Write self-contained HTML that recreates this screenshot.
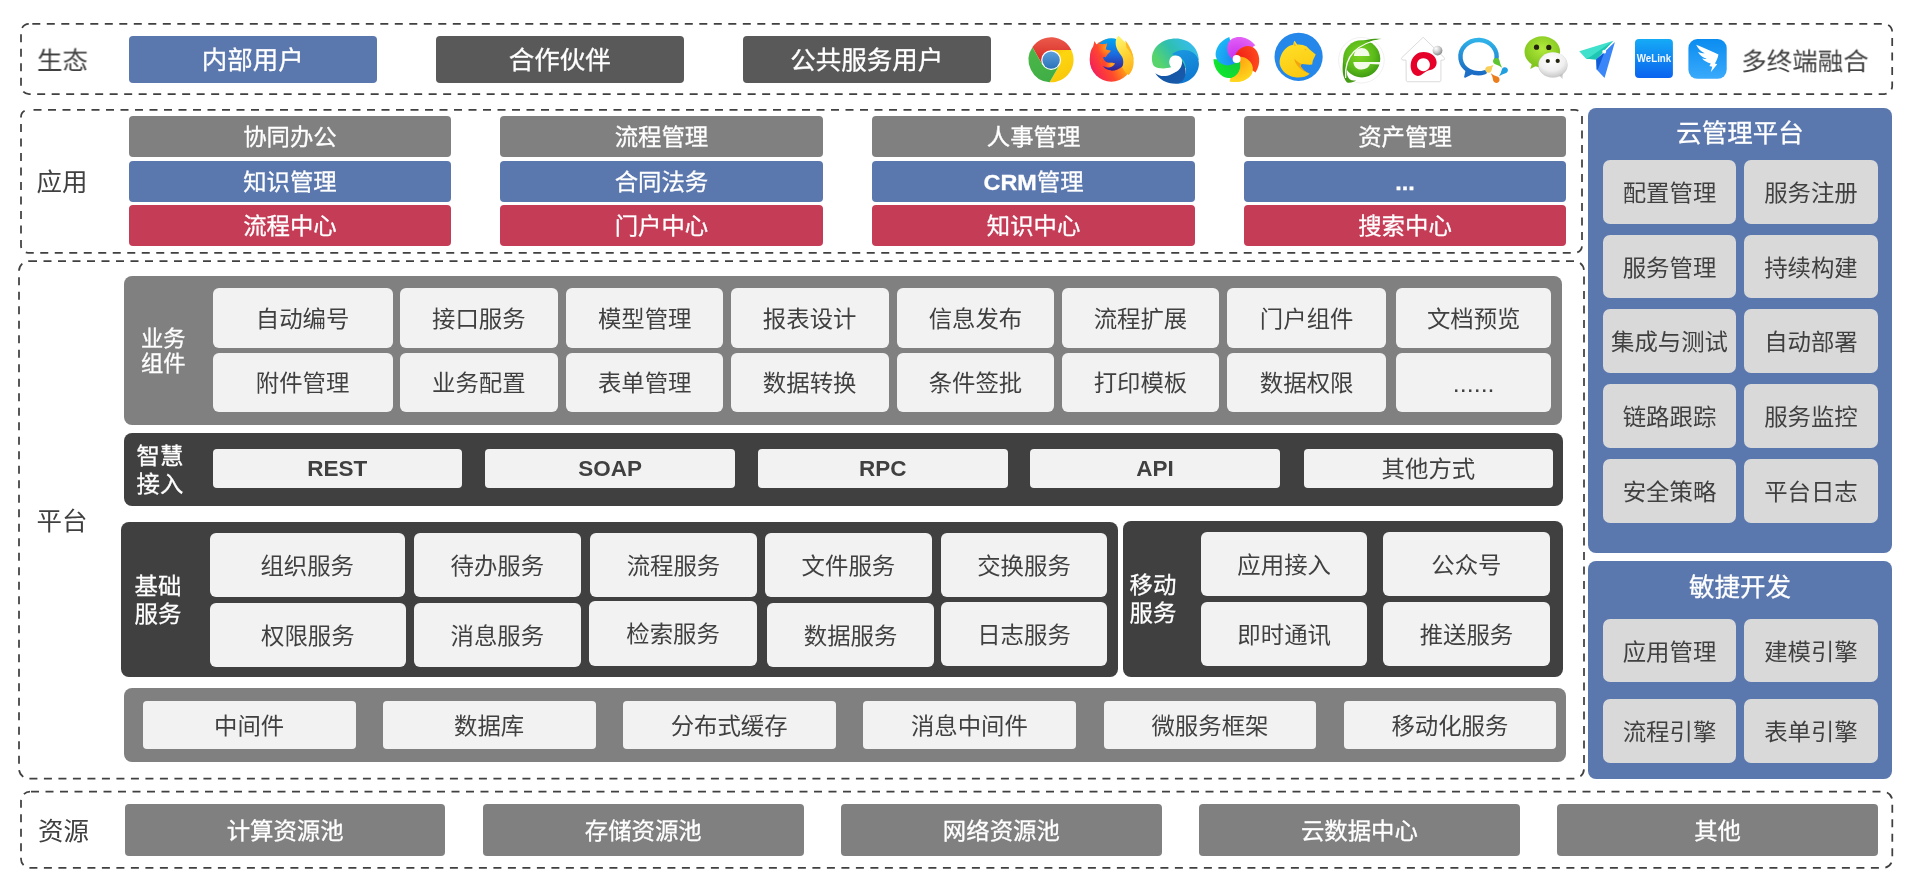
<!DOCTYPE html>
<html lang="zh-CN"><head><meta charset="utf-8"><title>平台架构</title>
<style>
html,body{margin:0;padding:0;background:#fff;}
body{width:1918px;height:878px;position:relative;overflow:hidden;font-family:"Liberation Sans", "Noto Sans CJK SC", sans-serif;}
#root{position:absolute;left:0;top:0;width:1918px;height:878px;will-change:transform;opacity:0.999;}
.b{position:absolute;display:flex;align-items:center;justify-content:center;border-radius:4px;box-sizing:border-box;white-space:nowrap;color:#fff;}
.b span{display:block;line-height:1;position:relative;top:1.4px;transform:scaleY(0.97);}
.blue span,.dk span,.gray span,.red span,.ttl,.pl{-webkit-text-stroke:0.3px #fff;}
.lc span,.cc span{top:1.8px;}
.b b{font-weight:bold;}
.l{position:absolute;transform:translate(-50%,-50%) scaleY(0.97);white-space:nowrap;text-align:center;line-height:1;margin-top:0.9px;}
.blue{background:#5a77ae;}
.dk{background:#595959;}
.gray{background:#808080;}
.red{background:#c53c56;}
.dd{background:#404040;}
.panel{border-radius:8px;}
.cc{background:#d9d9d9;color:#404040;border-radius:7px;}
.lc{background:#f2f2f2;color:#404040;border-radius:6px;}
.r4{border-radius:4px;}
.t25{font-size:25.5px;}
.t23{font-size:23.4px;}
.t22{font-size:22px;}
.dots{font-style:normal;font-size:25px;}
.t21{font-size:21px;}
.t21 span{font-size:23.4px;}
.t21 b{font-size:22.5px;position:relative;top:-0.6px;}
.lab{font-size:25.5px;color:#404040;}
.lab2{font-size:25.5px;color:#404040;}
.ttl{font-size:25.5px;color:#fff;}
.pl{font-size:23.4px;color:#fff;text-align:left;}
svg.ov{position:absolute;left:0;top:0;}
</style></head><body><div id="root">
<svg class="ov" width="1918" height="878" viewBox="0 0 1918 878" fill="none" stroke="#404040" stroke-width="1.75" stroke-dasharray="8 6.5">
<rect x="21" y="23.9" width="1871.2" height="70.1" rx="8" stroke-dashoffset="-3.3"/>
<rect x="21" y="109.9" width="1561" height="142.9" rx="7" stroke-dashoffset="-5.5"/>
<rect x="19" y="261" width="1565" height="517.7" rx="10"/>
<rect x="21" y="791.7" width="1871.3" height="76.2" rx="9" stroke-dashoffset="-1"/>
</svg>
<div class="b blue t25" style="left:128.8px;top:36.0px;width:247.8px;height:46.8px;"><span>内部用户</span></div>
<div class="b dk t25" style="left:435.9px;top:36.0px;width:247.8px;height:46.8px;"><span>合作伙伴</span></div>
<div class="b dk t25" style="left:743.0px;top:36.0px;width:247.7px;height:46.8px;"><span>公共服务用户</span></div>
<div class="l lab" style="left:62.5px;top:60.0px;">生态</div>
<div class="l lab2" style="left:1805.0px;top:61.5px;">多终端融合</div>
<div class="b gray t23" style="left:129.0px;top:116.0px;width:321.9px;height:40.8px;"><span>协同办公</span></div>
<div class="b gray t23" style="left:500.0px;top:116.0px;width:322.9px;height:40.8px;"><span>流程管理</span></div>
<div class="b gray t23" style="left:872.3px;top:116.0px;width:322.6px;height:40.8px;"><span>人事管理</span></div>
<div class="b gray t23" style="left:1244.0px;top:116.0px;width:322.0px;height:40.8px;"><span>资产管理</span></div>
<div class="b blue t23" style="left:129.0px;top:161.0px;width:321.9px;height:40.9px;"><span>知识管理</span></div>
<div class="b blue t23" style="left:500.0px;top:161.0px;width:322.9px;height:40.9px;"><span>合同法务</span></div>
<div class="b blue t23" style="left:872.3px;top:161.0px;width:322.6px;height:40.9px;"><span><b>CRM</b>管理</span></div>
<div class="b blue t23" style="left:1244.0px;top:161.0px;width:322.0px;height:40.9px;"><span><b style="font-size:23.4px">...</b></span></div>
<div class="b red t23" style="left:129.0px;top:205.0px;width:321.9px;height:40.8px;"><span>流程中心</span></div>
<div class="b red t23" style="left:500.0px;top:205.0px;width:322.9px;height:40.8px;"><span>门户中心</span></div>
<div class="b red t23" style="left:872.3px;top:205.0px;width:322.6px;height:40.8px;"><span>知识中心</span></div>
<div class="b red t23" style="left:1244.0px;top:205.0px;width:322.0px;height:40.8px;"><span>搜索中心</span></div>
<div class="l lab" style="left:62.0px;top:181.7px;">应用</div>
<div class="b blue panel" style="left:1588.0px;top:108.0px;width:304.0px;height:444.7px;"><span></span></div>
<div class="l ttl" style="left:1740.0px;top:133.0px;">云管理平台</div>
<div class="b cc t23" style="left:1603.0px;top:159.8px;width:133.0px;height:63.9px;"><span>配置管理</span></div>
<div class="b cc t23" style="left:1743.7px;top:159.8px;width:134.5px;height:63.9px;"><span>服务注册</span></div>
<div class="b cc t23" style="left:1603.0px;top:234.6px;width:133.0px;height:63.9px;"><span>服务管理</span></div>
<div class="b cc t23" style="left:1743.7px;top:234.6px;width:134.5px;height:63.9px;"><span>持续构建</span></div>
<div class="b cc t23" style="left:1603.0px;top:309.4px;width:133.0px;height:63.9px;"><span>集成与测试</span></div>
<div class="b cc t23" style="left:1743.7px;top:309.4px;width:134.5px;height:63.9px;"><span>自动部署</span></div>
<div class="b cc t23" style="left:1603.0px;top:384.2px;width:133.0px;height:63.9px;"><span>链路跟踪</span></div>
<div class="b cc t23" style="left:1743.7px;top:384.2px;width:134.5px;height:63.9px;"><span>服务监控</span></div>
<div class="b cc t23" style="left:1603.0px;top:459.0px;width:133.0px;height:63.9px;"><span>安全策略</span></div>
<div class="b cc t23" style="left:1743.7px;top:459.0px;width:134.5px;height:63.9px;"><span>平台日志</span></div>
<div class="b blue panel" style="left:1588.0px;top:561.3px;width:304.0px;height:217.3px;"><span></span></div>
<div class="l ttl" style="left:1740.0px;top:586.7px;">敏捷开发</div>
<div class="b cc t23" style="left:1603.0px;top:619.0px;width:133.0px;height:62.9px;"><span>应用管理</span></div>
<div class="b cc t23" style="left:1743.7px;top:619.0px;width:134.5px;height:62.9px;"><span>建模引擎</span></div>
<div class="b cc t23" style="left:1603.0px;top:698.8px;width:133.0px;height:64.1px;"><span>流程引擎</span></div>
<div class="b cc t23" style="left:1743.7px;top:698.8px;width:134.5px;height:64.1px;"><span>表单引擎</span></div>
<div class="l lab" style="left:62.0px;top:520.7px;">平台</div>
<div class="b gray panel" style="left:123.8px;top:276.0px;width:1438.7px;height:148.5px;"><span></span></div>
<div class="l pl" style="left:163.3px;top:350.8px;line-height:26px;font-size:22.3px;margin-top:1.2px;">业务<br>组件</div>
<div class="b lc t23" style="left:212.5px;top:288.0px;width:180.2px;height:59.5px;"><span>自动编号</span></div>
<div class="b lc t23" style="left:399.7px;top:288.0px;width:158.2px;height:59.5px;"><span>接口服务</span></div>
<div class="b lc t23" style="left:565.9px;top:288.0px;width:157.6px;height:59.5px;"><span>模型管理</span></div>
<div class="b lc t23" style="left:730.6px;top:288.0px;width:158.1px;height:59.5px;"><span>报表设计</span></div>
<div class="b lc t23" style="left:896.7px;top:288.0px;width:157.6px;height:59.5px;"><span>信息发布</span></div>
<div class="b lc t23" style="left:1061.7px;top:288.0px;width:157.6px;height:59.5px;"><span>流程扩展</span></div>
<div class="b lc t23" style="left:1227.3px;top:288.0px;width:158.7px;height:59.5px;"><span>门户组件</span></div>
<div class="b lc t23" style="left:1395.9px;top:288.0px;width:155.6px;height:59.5px;"><span>文档预览</span></div>
<div class="b lc t23" style="left:212.5px;top:352.8px;width:180.2px;height:59.2px;"><span>附件管理</span></div>
<div class="b lc t23" style="left:399.7px;top:352.8px;width:158.2px;height:59.2px;"><span>业务配置</span></div>
<div class="b lc t23" style="left:565.9px;top:352.8px;width:157.6px;height:59.2px;"><span>表单管理</span></div>
<div class="b lc t23" style="left:730.6px;top:352.8px;width:158.1px;height:59.2px;"><span>数据转换</span></div>
<div class="b lc t23" style="left:896.7px;top:352.8px;width:157.6px;height:59.2px;"><span>条件签批</span></div>
<div class="b lc t23" style="left:1061.7px;top:352.8px;width:157.6px;height:59.2px;"><span>打印模板</span></div>
<div class="b lc t23" style="left:1227.3px;top:352.8px;width:158.7px;height:59.2px;"><span>数据权限</span></div>
<div class="b lc t23" style="left:1395.9px;top:352.8px;width:155.6px;height:59.2px;"><span><i class="dots">......</i></span></div>
<div class="b dd panel" style="left:124.0px;top:433.1px;width:1438.5px;height:72.5px;"><span></span></div>
<div class="l pl" style="left:160.0px;top:469.5px;line-height:29px;margin-top:1.4px;">智慧<br>接入</div>
<div class="b lc t21 r4" style="left:212.7px;top:448.8px;width:249.0px;height:39.0px;"><span><b>REST</b></span></div>
<div class="b lc t21 r4" style="left:485.3px;top:448.8px;width:249.7px;height:39.0px;"><span><b>SOAP</b></span></div>
<div class="b lc t21 r4" style="left:757.7px;top:448.8px;width:250.0px;height:39.0px;"><span><b>RPC</b></span></div>
<div class="b lc t21 r4" style="left:1030.3px;top:448.8px;width:249.4px;height:39.0px;"><span><b>API</b></span></div>
<div class="b lc t21 r4" style="left:1304.0px;top:448.8px;width:248.8px;height:39.0px;"><span>其他方式</span></div>
<div class="b dd panel" style="left:121.0px;top:522.0px;width:996.6px;height:155.4px;"><span></span></div>
<div class="l pl" style="left:158.0px;top:599.7px;line-height:29px;margin-top:1.4px;">基础<br>服务</div>
<div class="b lc t23" style="left:209.7px;top:532.9px;width:195.0px;height:63.9px;"><span>组织服务</span></div>
<div class="b lc t23" style="left:209.7px;top:602.6px;width:196.3px;height:64.3px;"><span>权限服务</span></div>
<div class="b lc t23" style="left:413.7px;top:532.9px;width:167.2px;height:63.9px;"><span>待办服务</span></div>
<div class="b lc t23" style="left:413.7px;top:602.5px;width:167.2px;height:64.4px;"><span>消息服务</span></div>
<div class="b lc t23" style="left:590.3px;top:532.9px;width:166.4px;height:63.9px;"><span>流程服务</span></div>
<div class="b lc t23" style="left:589.4px;top:600.6px;width:167.3px;height:65.3px;"><span>检索服务</span></div>
<div class="b lc t23" style="left:765.0px;top:532.9px;width:166.8px;height:63.9px;"><span>文件服务</span></div>
<div class="b lc t23" style="left:767.0px;top:603.2px;width:167.1px;height:63.7px;"><span>数据服务</span></div>
<div class="b lc t23" style="left:941.0px;top:532.9px;width:166.0px;height:63.9px;"><span>交换服务</span></div>
<div class="b lc t23" style="left:941.0px;top:602.3px;width:166.0px;height:63.6px;"><span>日志服务</span></div>
<div class="b dd panel" style="left:1123.0px;top:521.0px;width:439.5px;height:155.6px;"><span></span></div>
<div class="l pl" style="left:1153.0px;top:598.7px;line-height:29px;margin-top:1.4px;">移动<br>服务</div>
<div class="b lc t23" style="left:1201.0px;top:531.9px;width:166.3px;height:63.9px;"><span>应用接入</span></div>
<div class="b lc t23" style="left:1382.9px;top:531.9px;width:167.1px;height:63.9px;"><span>公众号</span></div>
<div class="b lc t23" style="left:1201.0px;top:602.0px;width:166.3px;height:63.9px;"><span>即时通讯</span></div>
<div class="b lc t23" style="left:1382.9px;top:602.0px;width:167.1px;height:63.9px;"><span>推送服务</span></div>
<div class="b gray panel" style="left:123.8px;top:687.7px;width:1442.2px;height:74.2px;"><span></span></div>
<div class="b lc t23 r4" style="left:142.5px;top:701.0px;width:213.2px;height:47.8px;"><span>中间件</span></div>
<div class="b lc t23 r4" style="left:382.5px;top:701.0px;width:213.3px;height:47.8px;"><span>数据库</span></div>
<div class="b lc t23 r4" style="left:622.6px;top:701.0px;width:213.2px;height:47.8px;"><span>分布式缓存</span></div>
<div class="b lc t23 r4" style="left:862.9px;top:701.0px;width:213.1px;height:47.8px;"><span>消息中间件</span></div>
<div class="b lc t23 r4" style="left:1103.8px;top:701.0px;width:212.3px;height:47.8px;"><span>微服务框架</span></div>
<div class="b lc t23 r4" style="left:1343.9px;top:701.0px;width:212.1px;height:47.8px;"><span>移动化服务</span></div>
<div class="l lab" style="left:63.5px;top:831.0px;">资源</div>
<div class="b gray t23" style="left:124.8px;top:804.0px;width:320.7px;height:51.7px;"><span>计算资源池</span></div>
<div class="b gray t23" style="left:482.9px;top:804.0px;width:320.8px;height:51.7px;"><span>存储资源池</span></div>
<div class="b gray t23" style="left:841.0px;top:804.0px;width:320.7px;height:51.7px;"><span>网络资源池</span></div>
<div class="b gray t23" style="left:1199.1px;top:804.0px;width:320.7px;height:51.7px;"><span>云数据中心</span></div>
<div class="b gray t23" style="left:1557.2px;top:804.0px;width:320.7px;height:51.7px;"><span>其他</span></div>
<svg class="ov" width="1918" height="878" viewBox="0 0 1918 878"><defs>
<linearGradient id="cr" x1="0" y1="0" x2="0" y2="1"><stop offset="0" stop-color="#ec5a4c"/><stop offset="1" stop-color="#d3231f"/></linearGradient>
<linearGradient id="cyl" x1="0" y1="0" x2="0.5" y2="1"><stop offset="0" stop-color="#f3bd0a"/><stop offset="0.35" stop-color="#fdd60f"/><stop offset="1" stop-color="#f9c70c"/></linearGradient>
<linearGradient id="cg" x1="0.2" y1="0" x2="0.6" y2="1"><stop offset="0" stop-color="#4cb748"/><stop offset="1" stop-color="#3fae46"/></linearGradient>
<linearGradient id="cb" x1="0" y1="0" x2="0" y2="1"><stop offset="0" stop-color="#5d9fdc"/><stop offset="1" stop-color="#2b72b8"/></linearGradient>
<linearGradient id="ff1" gradientUnits="userSpaceOnUse" x1="1133" y1="50" x2="1089" y2="73"><stop offset="0" stop-color="#ffd83a"/><stop offset="0.3" stop-color="#ffa616"/><stop offset="0.6" stop-color="#ff4a2c"/><stop offset="0.85" stop-color="#f72a4e"/><stop offset="1" stop-color="#e3127e"/></linearGradient>
<linearGradient id="ff2" x1="0.5" y1="0" x2="0.5" y2="1"><stop offset="0" stop-color="#00a6f2"/><stop offset="0.5" stop-color="#1a6be0"/><stop offset="1" stop-color="#3a1c8c"/></linearGradient>
<linearGradient id="ff3" x1="0.9" y1="0" x2="0.2" y2="1"><stop offset="0" stop-color="#ffa616"/><stop offset="1" stop-color="#ff3e36"/></linearGradient>
<linearGradient id="ff4" x1="0.3" y1="0" x2="0.6" y2="1"><stop offset="0" stop-color="#fff36e"/><stop offset="0.45" stop-color="#ffd83a"/><stop offset="1" stop-color="#ffb01a"/></linearGradient>
<radialGradient id="ffh" gradientUnits="userSpaceOnUse" cx="1106.5" cy="48.1" r="9"><stop offset="0" stop-color="#ffa01a" stop-opacity="0.95"/><stop offset="1" stop-color="#ff7a1a" stop-opacity="0"/></radialGradient>
<radialGradient id="ffh2" gradientUnits="userSpaceOnUse" cx="1111.9" cy="64.5" r="6.5"><stop offset="0" stop-color="#ffb41e" stop-opacity="1"/><stop offset="1" stop-color="#ff8a1a" stop-opacity="0"/></radialGradient>
<linearGradient id="ed1" x1="0.1" y1="0.7" x2="0.95" y2="0.3"><stop offset="0" stop-color="#58d46c"/><stop offset="0.45" stop-color="#2fbfae"/><stop offset="1" stop-color="#36bdf0"/></linearGradient>
<linearGradient id="ed2" x1="0.3" y1="0" x2="0.6" y2="1"><stop offset="0" stop-color="#1a97e0"/><stop offset="1" stop-color="#0e76cf"/></linearGradient>
<linearGradient id="ed3" x1="0" y1="0" x2="1" y2="1"><stop offset="0" stop-color="#0f4f9e"/><stop offset="1" stop-color="#1a5cad"/></linearGradient>
<radialGradient id="pw_y" gradientUnits="userSpaceOnUse" cx="1236.6" cy="59.0" r="23"><stop offset="0.15" stop-color="#ffa410"/><stop offset="1" stop-color="#ffd81e"/></radialGradient>
<radialGradient id="pw_g" gradientUnits="userSpaceOnUse" cx="1236.6" cy="59.0" r="23"><stop offset="0.15" stop-color="#12cc3c"/><stop offset="1" stop-color="#10e62e"/></radialGradient>
<radialGradient id="pw_b" gradientUnits="userSpaceOnUse" cx="1236.6" cy="59.0" r="23"><stop offset="0.15" stop-color="#1c8af0"/><stop offset="1" stop-color="#1ab8f6"/></radialGradient>
<radialGradient id="pw_m" gradientUnits="userSpaceOnUse" cx="1236.6" cy="59.0" r="23"><stop offset="0.15" stop-color="#c934ee"/><stop offset="1" stop-color="#e462f6"/></radialGradient>
<radialGradient id="pw_r" gradientUnits="userSpaceOnUse" cx="1236.6" cy="59.0" r="23"><stop offset="0.15" stop-color="#f02218"/><stop offset="1" stop-color="#ff4a1c"/></radialGradient>
<clipPath id="pwclip"><path d="M1236.59 59.05 L1239.95 61.06 C1240.92 64.73 1240.84 68.90 1238.20 72.89 C1235.50 76.84 1231.83 78.40 1227.86 78.05 L1219.50 95.96 L1277.60 95.96 L1277.60 31.71 L1233.17 31.71 Z"/></clipPath>
<linearGradient id="lb" x1="0.2" y1="0" x2="0.6" y2="1"><stop offset="0" stop-color="#ffe02a"/><stop offset="1" stop-color="#fbc80e"/></linearGradient>
<radialGradient id="ge" cx="0.45" cy="0.4" r="0.65"><stop offset="0" stop-color="#7fd422"/><stop offset="0.6" stop-color="#5cbb1a"/><stop offset="1" stop-color="#3a9612"/></radialGradient>
<radialGradient id="ball" cx="0.35" cy="0.3" r="0.8"><stop offset="0" stop-color="#ffffff"/><stop offset="0.5" stop-color="#c8c8c8"/><stop offset="1" stop-color="#7a7a7a"/></radialGradient>
<linearGradient id="wc" x1="0.5" y1="0" x2="0.4" y2="1"><stop offset="0" stop-color="#2fb2e8"/><stop offset="1" stop-color="#1b6cc4"/></linearGradient>
<radialGradient id="wxg" cx="0.5" cy="0.4" r="0.6"><stop offset="0" stop-color="#b2ea3c"/><stop offset="1" stop-color="#7dc21c"/></radialGradient>
<radialGradient id="wxw" cx="0.45" cy="0.3" r="0.75"><stop offset="0" stop-color="#ffffff"/><stop offset="0.6" stop-color="#f0f0f0"/><stop offset="1" stop-color="#c4c4c4"/></radialGradient>
<linearGradient id="wl" x1="0" y1="0" x2="0" y2="1"><stop offset="0" stop-color="#15abf6"/><stop offset="1" stop-color="#0b63ef"/></linearGradient>
<linearGradient id="dt" x1="0" y1="0" x2="0" y2="1"><stop offset="0" stop-color="#0a8cf0"/><stop offset="1" stop-color="#3aaafb"/></linearGradient>
</defs>
<g id="i-chrome">
<path d="M1042.53 64.75 L1032.42 47.25 A22.5 22.5 0 0 1 1071.30 49.90 L1051.10 49.90 Z" fill="url(#cr)"/>
<path d="M1051.10 49.90 L1071.30 49.90 A22.5 22.5 0 0 1 1049.57 82.25 L1059.67 64.75 Z" fill="url(#cyl)"/>
<path d="M1059.67 64.75 L1049.57 82.25 A22.5 22.5 0 0 1 1032.42 47.25 L1042.53 64.75 Z" fill="url(#cg)"/>
<circle cx="1051.1" cy="60.099999999999994" r="9.9" fill="#fff"/>
<circle cx="1051.1" cy="60.099999999999994" r="8.7" fill="url(#cb)"/>
</g>
<g id="i-firefox">
<circle cx="1111.3" cy="60.1" r="21.6" fill="url(#ff1)"/>
<circle cx="1111.3" cy="54.5" r="16.2" fill="url(#ff2)"/>
<path d="M1094.50 40.94 L1096.56 44.70 C1099.97 43.33 1104.07 45.04 1107.22 43.33 L1105.51 49.48 L1110.84 50.85 C1108.86 53.58 1107.15 54.27 1105.85 57.34 C1104.76 56.79 1103.73 56.79 1103.12 57.34 C1103.53 60.08 1105.44 62.13 1108.17 62.81 C1110.91 62.95 1112.96 61.99 1115.08 63.49 C1113.30 66.23 1110.91 67.46 1108.17 67.59 C1105.44 67.46 1103.73 66.57 1102.71 65.54 C1104.07 68.28 1107.49 70.33 1111.59 70.60 L1102.02 73.75 L1091.09 65.54 C1089.04 58.71 1089.72 50.51 1093.14 46.40 Z" fill="url(#ff1)"/>
<path d="M1103.12 57.34 C1101.34 57.68 1099.97 59.05 1099.70 60.08 C1100.31 64.18 1103.39 66.91 1108.17 67.59 C1105.44 67.46 1103.73 66.57 1102.71 65.54 C1101.68 62.81 1102.02 59.39 1103.12 57.34 Z" fill="#f0600e" opacity="0.55"/>
<path d="M1094.50 40.94 L1096.56 44.70 C1099.97 43.33 1104.07 45.04 1107.22 43.33 L1105.51 49.48 L1110.84 50.85 C1108.86 53.58 1107.15 54.27 1105.85 57.34 C1104.76 56.79 1103.73 56.79 1103.12 57.34 C1103.53 60.08 1105.44 62.13 1108.17 62.81 C1110.91 62.95 1112.96 61.99 1115.08 63.49 C1113.30 66.23 1110.91 67.46 1108.17 67.59 C1105.44 67.46 1103.73 66.57 1102.71 65.54 C1104.07 68.28 1107.49 70.33 1111.59 70.60 L1102.02 73.75 L1091.09 65.54 C1089.04 58.71 1089.72 50.51 1093.14 46.40 Z" fill="url(#ffh)"/>
<path d="M1094.50 40.94 L1096.56 44.70 C1099.97 43.33 1104.07 45.04 1107.22 43.33 L1105.51 49.48 L1110.84 50.85 C1108.86 53.58 1107.15 54.27 1105.85 57.34 C1104.76 56.79 1103.73 56.79 1103.12 57.34 C1103.53 60.08 1105.44 62.13 1108.17 62.81 C1110.91 62.95 1112.96 61.99 1115.08 63.49 C1113.30 66.23 1110.91 67.46 1108.17 67.59 C1105.44 67.46 1103.73 66.57 1102.71 65.54 C1104.07 68.28 1107.49 70.33 1111.59 70.60 L1102.02 73.75 L1091.09 65.54 C1089.04 58.71 1089.72 50.51 1093.14 46.40 Z" fill="url(#ffh2)"/>
<path d="M1118.43 35.81 C1123.90 40.94 1130.05 46.40 1132.44 53.92 C1134.97 61.44 1133.60 69.99 1128.68 75.11 C1126.29 73.75 1123.90 71.01 1122.19 67.25 C1124.03 62.81 1123.35 58.71 1121.57 55.97 C1119.45 52.56 1116.04 49.14 1115.69 43.67 C1115.42 40.25 1116.38 37.52 1118.43 35.81 Z" fill="url(#ff4)"/>
<path d="M1125.26 40.25 C1129.36 45.72 1133.47 52.56 1133.47 60.08 C1132.10 54.61 1129.36 50.51 1126.63 47.77 Z" fill="#ffb51e"/>
</g>
<g id="i-edge">
<path d="M1151.97 59.39 C1151.49 47.09 1162.77 38.54 1175.76 38.54 C1188.75 38.54 1198.32 47.77 1198.86 60.08 L1186.01 68.28 L1170.97 67.25 C1165.51 68.96 1157.99 68.96 1153.89 65.89 C1152.52 63.83 1152.04 61.78 1151.97 59.39 Z" fill="url(#ed1)"/>
<path d="M1172.00 54.06 C1177.13 49.48 1186.70 48.32 1192.85 52.42 C1196.61 54.95 1199.14 59.39 1198.93 64.52 C1198.32 74.43 1189.43 83.66 1177.13 83.66 C1181.91 80.58 1185.33 76.48 1186.01 70.33 C1186.42 64.18 1183.28 58.71 1179.18 56.66 C1177.13 55.63 1174.39 55.63 1172.00 54.06 Z" fill="url(#ed2)"/>
<path d="M1155.25 72.93 C1158.67 76.48 1165.51 77.16 1170.97 74.43 C1176.44 71.70 1180.54 66.91 1181.36 60.08 C1185.33 65.54 1186.83 71.01 1184.78 77.16 C1183.41 80.72 1180.54 82.97 1177.13 83.66 C1167.56 84.14 1158.67 79.35 1155.25 72.93 Z" fill="url(#ed3)"/>
<path d="M1171.32 67.46 C1169.47 65.54 1168.79 62.81 1169.47 60.08 C1170.84 55.02 1177.47 54.27 1180.89 57.68 C1183.00 60.62 1182.46 65.68 1179.31 69.23 C1175.08 73.88 1165.51 76.62 1155.25 72.93 C1162.09 73.75 1168.24 71.01 1171.32 67.46 Z" fill="#fff"/>
</g>
<g id="i-360x">
<path d="M1239.54 56.48 C1243.33 56.69 1247.27 58.05 1250.25 61.80 C1253.17 65.59 1253.52 69.56 1251.96 73.23 C1249.35 78.93 1240.45 84.13 1229.61 81.19 L1231.56 75.38 L1236.59 59.05 Z" fill="url(#pw_y)"/>
<path d="M1239.95 61.06 C1240.92 64.73 1240.84 68.90 1238.20 72.89 C1235.50 76.84 1231.83 78.40 1227.86 78.05 C1221.63 77.32 1213.93 70.47 1213.38 59.25 L1219.51 59.31 L1236.59 59.05 Z" fill="url(#pw_g)"/>
<path d="M1235.71 62.86 C1232.53 64.92 1228.54 66.14 1223.93 64.85 C1219.33 63.50 1216.72 60.50 1215.82 56.61 C1214.59 50.46 1218.73 41.03 1229.23 37.04 L1231.07 42.88 L1236.59 59.05 Z" fill="url(#pw_b)"/>
<path d="M1232.70 59.39 C1229.76 57.00 1227.37 53.58 1227.16 48.80 C1227.02 44.01 1229.07 40.59 1232.49 38.54 C1237.96 35.47 1248.21 36.49 1255.25 45.24 L1250.26 48.80 L1236.59 59.05 Z" fill="url(#pw_m)"/>
<path d="M1235.06 55.45 C1236.43 51.92 1238.94 48.58 1243.43 46.91 C1247.94 45.30 1251.82 46.20 1254.83 48.81 C1259.44 53.06 1261.64 63.13 1255.49 72.53 L1250.57 68.88 L1236.59 59.05 Z" fill="url(#pw_r)"/>
<path d="M1239.54 56.48 C1243.33 56.69 1247.27 58.05 1250.25 61.80 C1253.17 65.59 1253.52 69.56 1251.96 73.23 C1249.35 78.93 1240.45 84.13 1229.61 81.19 L1231.56 75.38 L1236.59 59.05 Z" fill="url(#pw_y)" clip-path="url(#pwclip)"/>
<circle cx="1236.6" cy="59.0" r="4" fill="#fff"/>
</g>
<g id="i-liebao">
<circle cx="1298.6" cy="56.8" r="24.1" fill="#2587ea"/>
<path d="M1294.73 40.72 L1297.13 44.48 C1300.54 44.14 1303.96 44.82 1306.70 46.53 L1309.09 48.92 L1315.72 54.53 L1312.85 60.54 L1312.16 64.51 L1309.43 64.78 L1302.25 64.10 C1300.54 64.30 1300.20 65.33 1300.89 66.70 C1302.94 70.11 1306.01 72.16 1309.77 73.67 C1306.01 76.95 1300.54 77.97 1295.08 77.29 C1287.56 75.92 1281.40 71.48 1279.70 63.96 C1279.01 57.13 1282.77 50.29 1288.24 46.53 C1290.29 45.37 1292.00 44.82 1293.37 44.69 C1293.37 42.91 1293.84 41.68 1294.73 40.72 Z" fill="url(#lb)"/>
<path d="M1294.39 58.83 C1297.13 61.91 1299.86 63.62 1302.25 64.10 C1300.54 64.51 1300.27 65.46 1300.95 66.83 C1302.94 70.11 1306.01 72.30 1309.77 73.67 C1305.33 72.85 1300.54 69.43 1297.13 65.33 C1295.42 62.94 1294.53 60.89 1294.39 58.83 Z" fill="#f2a60c"/>
<path d="M1294.05 42.09 L1295.76 45.51 L1294.53 46.19 Z" fill="#f2a60c"/>
<path d="M1303.96 48.79 L1306.35 49.74 L1305.87 50.43 Z" fill="#e8a010"/>
</g>
<g id="i-360e">
<circle cx="1361.4" cy="60.2" r="22.8" fill="none" stroke="#ececec" stroke-width="0.8"/>
<path d="M1381.95 39.01 C1374.36 38.33 1365.55 38.67 1352.56 44.82 C1345.66 48.92 1342.92 59.18 1342.65 66.01 C1342.24 72.85 1343.61 79.00 1347.02 82.42 C1350.44 83.10 1353.86 82.07 1356.25 80.23 C1351.81 81.46 1348.53 79.55 1347.30 75.58 C1345.11 66.01 1349.21 55.76 1357.34 48.24 C1364.11 42.77 1374.36 40.17 1381.95 39.01 Z" fill="#469c16"/>
<circle cx="1361.7" cy="58.8" r="18.6" fill="url(#ge)"/>
<path d="M1381.47 39.49 C1371.63 40.72 1360.69 44.82 1353.86 51.79 C1347.37 58.49 1344.84 67.38 1345.66 77.97" fill="none" stroke="#fff" stroke-width="1.2"/>
<path d="M1353.86 55.90 C1354.20 50.97 1357.28 47.90 1361.72 47.90 C1366.16 47.90 1369.24 50.97 1369.58 55.90 Z" fill="#f4fbe8"/>
<path d="M1353.31 61.91 L1380.38 61.91 L1379.83 64.51 L1369.92 64.10 C1368.90 67.38 1365.82 69.57 1361.72 69.57 C1356.93 69.57 1353.72 66.70 1353.31 61.91 Z" fill="#f4fbe8"/>
</g>
<g id="i-house">
<path d="M1423.15 37.30 L1401.76 57.67 C1400.94 58.63 1401.48 59.86 1402.99 60.00 L1406.06 60.20 L1406.20 80.02 C1406.27 81.19 1406.81 81.73 1407.91 81.73 L1439.21 81.73 C1440.31 81.73 1440.85 81.19 1440.92 80.02 L1440.92 60.20 L1443.32 60.00 C1444.82 59.72 1445.09 58.49 1444.14 57.54 Z" fill="#fff" stroke="#d6d6d6" stroke-width="0.9" stroke-linejoin="round"/>
<path fill-rule="evenodd" d="M1423.49 52.00 C1431.01 52.00 1436.48 56.44 1436.62 62.25 C1436.75 66.01 1434.43 69.09 1431.01 69.77 C1426.91 70.45 1424.18 72.85 1420.76 75.24 C1417.34 76.95 1413.24 75.58 1411.53 70.80 C1409.48 64.64 1411.19 57.81 1415.97 54.39 C1418.37 52.68 1420.76 52.00 1423.49 52.00 ZM1423.36 58.15 A6.49 6.49 0 1 0 1423.42 58.15 Z" fill="#e60028"/>
<circle cx="1437.5" cy="50.6" r="4.9" fill="url(#ball)"/>
</g>
<g id="i-wecom">
<path d="M1496.02 60.95 A18.11 16.61 0 1 0 1484.74 72.23" fill="none" stroke="url(#wc)" stroke-width="4.4" stroke-linecap="round"/>
<path d="M1465.87 68.75 L1464.09 77.08 Q1464.50 78.04 1465.73 77.49 L1473.39 73.67 Z" fill="#1c6ec6"/>
<path d="M1494.74 64.12 A3.28 3.28 0 1 1 1499.33 60.01 Q1500.30 64.89 1502.10 67.72 Q1499.48 65.62 1494.74 64.12 Z" fill="#5fc52e"/>
<path d="M1502.02 69.00 A3.08 3.08 0 1 1 1506.18 73.01 Q1501.63 74.36 1499.02 76.26 Q1500.83 73.60 1502.02 69.00 Z" fill="#1f9fe0"/>
<path d="M1497.92 76.84 A3.28 3.28 0 1 1 1493.21 80.81 Q1492.48 76.01 1490.82 73.19 Q1493.32 75.30 1497.92 76.84 Z" fill="#ec7d1c"/>
<path d="M1491.35 70.92 A3.28 3.28 0 1 1 1487.14 66.41 Q1491.23 66.06 1493.55 64.64 Q1491.98 66.86 1491.35 70.92 Z" fill="#f7cf5a"/>
</g>
<g id="i-wechat">
<ellipse cx="1542.3" cy="51.8" rx="17.8" ry="15.6" fill="url(#wxg)"/>
<path d="M1532.09 63.28 L1530.17 68.88 L1537.56 65.33 Z" fill="#84c620"/>
<path d="M1558.75 75.24 L1562.51 79.00 L1562.85 72.85 Z" fill="#d0d0d0"/>
<ellipse cx="1552.9" cy="65.1" rx="14.7" ry="12.7" fill="#a9a9a9" opacity="0.55"/>
<ellipse cx="1552.9" cy="64.6" rx="14.4" ry="12.3" fill="url(#wxw)"/>
<circle cx="1536.5" cy="47.2" r="2.6" fill="#23230f"/>
<circle cx="1548.8" cy="47.4" r="2.6" fill="#23230f"/>
<circle cx="1547.8" cy="61.0" r="2.1" fill="#23230f"/>
<circle cx="1557.7" cy="60.9" r="2.1" fill="#23230f"/>
</g>
<g id="i-feishu">
<path d="M1579.25 51.32 L1613.43 40.86 L1596.34 59.52 L1586.09 58.83 Z" fill="#3fe0cc"/>
<path d="M1589.50 57.13 L1613.43 40.86 L1596.34 59.52 L1586.09 58.83 Z" fill="#1fc7b2"/>
<path d="M1614.93 42.09 L1604.54 77.97 L1596.68 69.43 L1596.20 59.52 Z" fill="#3a86f8"/>
<path d="M1596.20 59.52 L1604.54 52.34 L1598.05 68.75 L1596.68 69.43 Z" fill="#0f5bd8"/>
<path d="M1604.20 51.66 L1613.77 41.40" stroke="#fff" stroke-width="1.1" fill="none"/>
<circle cx="1604.2" cy="51.7" r="1.9" fill="#fff"/>
</g>
<g id="i-welink">
<rect x="1635.0" y="39.0" width="37.9" height="39.0" rx="4" fill="url(#wl)"/>
<text x="1654.0" y="62.0" text-anchor="middle" font-family="Liberation Sans, sans-serif" font-weight="bold" font-size="10.4" textLength="34.5" lengthAdjust="spacingAndGlyphs" fill="#f2f8ff">WeLink</text>
</g>
<g id="i-ding">
<rect x="1688.4" y="39.0" width="38.3" height="39.8" rx="9" fill="url(#dt)"/>
<path d="M1696.21 44.82 C1703.39 47.90 1711.59 51.32 1718.43 54.39 C1717.88 57.81 1716.51 60.89 1714.87 63.41 L1717.20 64.30 L1710.77 72.30 L1712.28 66.83 L1709.41 66.01 L1710.77 63.41 C1707.49 62.59 1704.07 60.89 1702.02 58.49 C1703.73 58.97 1705.44 59.04 1706.94 58.83 C1703.05 57.67 1699.63 55.08 1697.92 52.00 C1699.97 52.89 1702.37 53.37 1704.76 53.37 C1701.00 51.66 1697.58 48.24 1696.21 44.82 Z" fill="#fff"/>
</g>
</svg>
</div></body></html>
